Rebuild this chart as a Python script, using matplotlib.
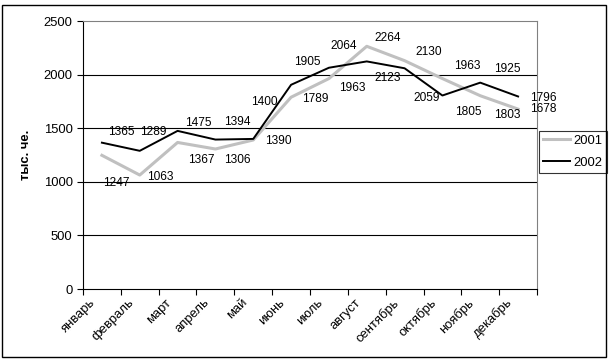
import numpy as np
import matplotlib
matplotlib.use('Agg')
import matplotlib.pyplot as plt
from matplotlib import font_manager
from matplotlib.transforms import ScaledTranslation
from matplotlib.patches import Rectangle

months = ['январь', 'февраль', 'март', 'апрель', 'май', 'июнь',
          'июль', 'август', 'сентябрь', 'октябрь', 'ноябрь', 'декабрь']
y2001 = [1247, 1063, 1367, 1306, 1390, 1789, 1963, 2264, 2130, 1963, 1803, 1678]
y2002 = [1365, 1289, 1475, 1394, 1400, 1905, 2064, 2123, 2059, 1805, 1925, 1796]
yticks = [0, 500, 1000, 1500, 2000, 2500]

# where each value label sits, in pixels from its point (dx, dy)
off2001 = [(14, -28), (21, -2), (24, -18), (22, -11), (25, -1), (24, -2),
           (23, -9), (21, 8), (24, 9), (25, 13), (27, -19), (25, 0)]
off2002 = [(19, 11), (14, 19), (21, 8), (22, 18), (11, 37), (16, 23),
           (15, 22), (21, -17), (22, -30), (26, -16), (27, 14), (25, -2)]

names = {f.name for f in font_manager.fontManager.ttflist}
narrow = 'Liberation Sans Narrow' if 'Liberation Sans Narrow' in names else 'Liberation Sans'
plt.rcParams['font.family'] = ['Liberation Sans', 'DejaVu Sans']

fig = plt.figure(figsize=(6.16, 3.63), dpi=100)
ax = fig.add_axes([83/616, 1-289/363, 454/616, 268/363])

x = np.arange(len(months))
ax.plot(x, y2001, color='#c0c0c0', lw=2.2, label='2001', zorder=3)
ax.plot(x, y2002, color='black', lw=1.4, label='2002', zorder=4)

for i in range(len(months)):
    ax.annotate(str(y2001[i]), (x[i], y2001[i]), xytext=off2001[i],
                textcoords='offset pixels', ha='center', va='center',
                fontsize=8.6, family=narrow, zorder=5)
    ax.annotate(str(y2002[i]), (x[i], y2002[i]), xytext=off2002[i],
                textcoords='offset pixels', ha='center', va='center',
                fontsize=8.6, family=narrow, zorder=5)

ax.set_xlim(-0.5, len(months) - 0.5)
ax.set_ylim(0, 2500)
ax.set_yticks(yticks)
ax.tick_params(axis='y', length=4, width=0.8, pad=3.5, labelsize=9.4, direction='out')
ax.set_xticks(x)
ax.set_xticklabels(months, rotation=45, ha='right', va='center',
                   rotation_mode='anchor', fontsize=9.4)
ax.tick_params(axis='x', which='major', length=0, pad=8.5)
ax.set_xticks(np.arange(-0.5, len(months)), minor=True)
ax.tick_params(axis='x', which='minor', length=4, width=0.8, direction='out')
shift = ScaledTranslation(-8/100, 0, fig.dpi_scale_trans)
for lab in ax.get_xticklabels():
    lab.set_transform(lab.get_transform() + shift)

for v in yticks[1:-1]:
    ax.axhline(v, color='black', lw=0.8, zorder=1)

for s in ['left', 'bottom']:
    ax.spines[s].set_color('black')
    ax.spines[s].set_linewidth(0.8)
for s in ['top', 'right']:
    ax.spines[s].set_color('#808080')
    ax.spines[s].set_linewidth(0.8)

ax.set_ylabel('тыс. че.', fontsize=9.4, fontweight='bold')
ax.yaxis.set_label_coords(-0.113, 0.5)

leg = ax.legend(loc='upper left', bbox_to_anchor=(539/616, 1-131/363),
                bbox_transform=fig.transFigure, fontsize=9.4, frameon=True,
                fancybox=False, edgecolor='black', borderpad=0.3,
                handlelength=2.1, handletextpad=0.25, labelspacing=0.75,
                borderaxespad=0)
leg.get_frame().set_linewidth(0.8)

fig.patches.append(Rectangle((2/616, 6/363), 604/616, 352/363, transform=fig.transFigure,
                             fill=False, edgecolor='black', lw=1.0))

plt.savefig('out.png', dpi=100)
